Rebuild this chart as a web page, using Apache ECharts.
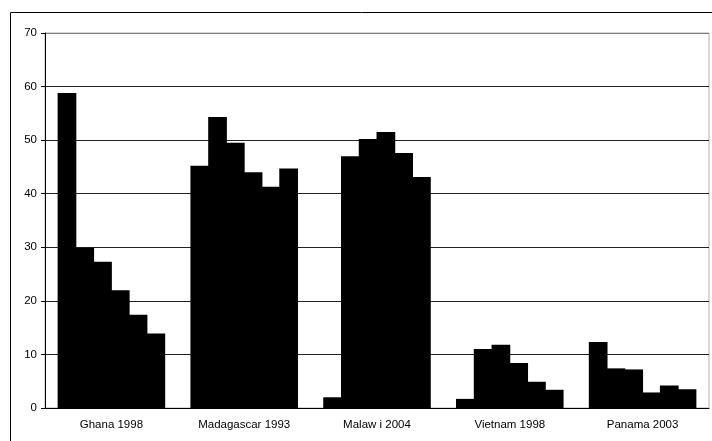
<!DOCTYPE html>
<html lang="en">

<head>
    <meta charset="UTF-8">
    <title>Chart</title>
    <style>
        html, body { margin: 0; padding: 0; background: #fff; }
    </style>
</head>

<body>
    <div id="main" style="width: 712px; height: 441px"></div>
    <script src="https://cdn.jsdelivr.net/npm/echarts@6/dist/echarts.min.js"></script>
    <script type="text/javascript">
        // categories and the six bars of each group
        var categories = ['Ghana 1998', 'Madagascar 1993', 'Malaw i 2004', 'Vietnam 1998', 'Panama 2003'];
        var ghana = [58.8, 29.9, 27.3, 22.0, 17.4, 13.9];
        var madagascar = [45.2, 54.3, 49.5, 44.0, 41.3, 44.7];
        var malawi = [2.0, 47.0, 50.2, 51.5, 47.6, 43.1];
        var vietnam = [1.7, 11.0, 11.8, 8.4, 4.9, 3.4];
        var panama = [12.3, 7.4, 7.2, 2.9, 4.2, 3.5];
        var yTicks = [0, 10, 20, 30, 40, 50, 60, 70];

        var groups = [ghana, madagascar, malawi, vietnam, panama];
        var myChart = echarts.init(document.getElementById('main'));

        var series = [];
        for (var i = 0; i < 6; i++) {
            var d = [];
            for (var g = 0; g < groups.length; g++) {
                d.push(groups[g][i]);
            }
            series.push({
                type: 'bar',
                data: d,
                // slight overlap so no light seam shows between neighbours
                barGap: '-5%',
                barCategoryGap: '19%',
                itemStyle: { color: '#000' },
                silent: true
            });
        }

        var gridColors = yTicks.map(function (v, k) {
            return k === yTicks.length - 1 ? '#808080' : '#222';
        });

        var option = {
            animation: false,
            textStyle: { fontFamily: 'Liberation Sans, Arial, sans-serif' },
            graphic: [{
                type: 'rect',
                shape: { x: 10.5, y: 12.5, width: 710, height: 440 },
                style: { fill: 'none', stroke: '#000', lineWidth: 1 },
                silent: true
            }],
            grid: {
                left: 45,
                right: 3,
                top: 33,
                bottom: 33,
                show: true,
                borderColor: '#b0b0b0',
                borderWidth: 1
            },
            xAxis: {
                type: 'category',
                data: categories,
                axisLine: { lineStyle: { color: '#000', width: 1 } },
                axisTick: { length: 4, lineStyle: { color: '#000' } },
                axisLabel: { color: '#000', fontSize: 11.5, margin: 11 }
            },
            yAxis: {
                type: 'value',
                min: 0,
                max: 70,
                interval: 10,
                axisLine: { show: true, lineStyle: { color: '#000', width: 1 } },
                axisTick: { show: true, length: 4, lineStyle: { color: '#000' } },
                axisLabel: { color: '#000', fontSize: 11.5, margin: 8 },
                splitLine: { lineStyle: { color: gridColors, width: 1 } }
            },
            series: series
        };
        myChart.setOption(option);
    </script>

</body>

</html>
